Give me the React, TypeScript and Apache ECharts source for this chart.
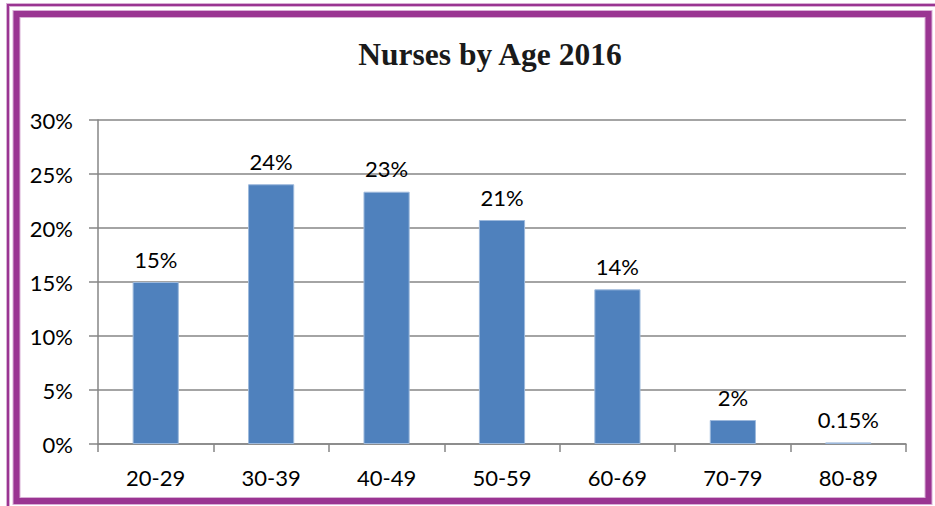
import React, { useEffect, useRef } from "react";
import * as echarts from "echarts";

const categories = ["20-29", "30-39", "40-49", "50-59", "60-69", "70-79", "80-89"];
const values = [15.0, 24.05, 23.36, 20.74, 14.32, 2.22, 0.15];
const yTicks = [0, 5, 10, 15, 20, 25, 30];
const titleText = "Nurses by Age 2016";

const PURPLE = "#9A3592";

export default function App() {
  const ref = useRef<HTMLDivElement>(null);
  useEffect(() => {
    if (!ref.current) return;
    const chart = echarts.init(ref.current, null, { renderer: "svg" });
    chart.setOption({
      animation: false,
      backgroundColor: "#ffffff",
      title: {
        text: titleText,
        left: 485,
        top: 33,
        textAlign: "center",
        textStyle: {
          fontFamily: "Liberation Serif",
          fontWeight: "bold",
          fontSize: 31.5,
          color: "#1a1a1a",
        },
      },
      grid: { left: 98, right: 29, top: 120, bottom: 62, containLabel: false },
      xAxis: {
        type: "category",
        data: categories,
        axisLine: { show: true, lineStyle: { color: "#868686", width: 1.5 } },
        axisTick: { show: true, length: 8, lineStyle: { color: "#868686", width: 1.5 } },
        axisLabel: {
          margin: 22,
          fontFamily: "Lato",
          fontSize: 22,
          color: "#000",
        },
      },
      yAxis: {
        type: "value",
        min: yTicks[0],
        max: yTicks[yTicks.length - 1],
        interval: 5,
        axisLine: { show: true, lineStyle: { color: "#868686", width: 1.5 } },
        axisTick: { show: true, length: 9, lineStyle: { color: "#868686", width: 1.5 } },
        splitLine: { show: true, lineStyle: { color: "#868686", width: 1.5 } },
        axisLabel: {
          margin: 25,
          fontFamily: "Lato",
          fontSize: 22,
          color: "#000",
          formatter: (v: number) => v + "%",
        },
      },
      series: [
        {
          type: "bar",
          data: values,
          barWidth: "40%",
          itemStyle: { color: "#4F81BD", borderColor: "#9DB9DC", borderWidth: 1 },
          label: {
            show: true,
            position: "top",
            distance: 12,
            fontFamily: "Lato",
            fontSize: 22,
            color: "#000",
            formatter: (p: any) => (p.value < 1 ? p.value + "%" : Math.round(p.value) + "%"),
          },
        },
      ],
      graphic: [
        {
          type: "polyline",
          shape: { points: [[8, 506], [8, 5], [935, 5]] },
          style: { stroke: "#D9B0D6", lineWidth: 4, fill: "none" },
          z: 100,
        },
        {
          type: "polyline",
          shape: { points: [[8, 506], [8, 5], [935, 5]] },
          style: { stroke: PURPLE, lineWidth: 2, fill: "none" },
          z: 101,
        },
        {
          type: "rect",
          shape: { x: 16.5, y: 14, width: 912, height: 487 },
          style: { stroke: "#D9B0D6", lineWidth: 8, fill: "none" },
          z: 100,
        },
        {
          type: "rect",
          shape: { x: 16.5, y: 14, width: 912, height: 487 },
          style: { stroke: PURPLE, lineWidth: 6, fill: "none" },
          z: 101,
        },
      ],
    });
    return () => chart.dispose();
  }, []);
  return (
    <div
      ref={ref}
      style={{ position: "fixed", left: 0, top: 0, width: 935, height: 506 }}
    />
  );
}
